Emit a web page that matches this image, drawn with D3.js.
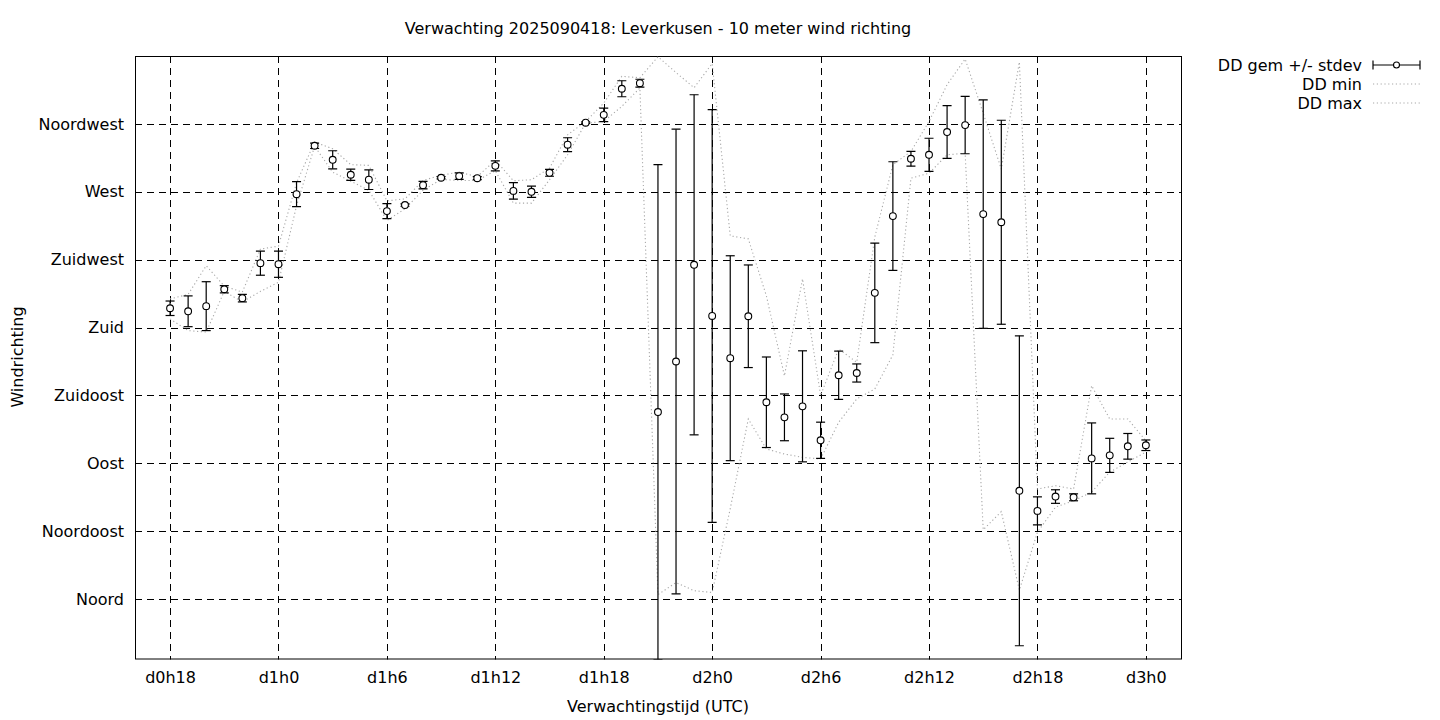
<!DOCTYPE html>
<html>
<head>
<meta charset="utf-8">
<script src="https://cdn.jsdelivr.net/npm/d3@7"></script>
<style>
  html, body { margin: 0; padding: 0; background: #fff; }
  svg { display: block; }
  text { font-family: "DejaVu Sans", sans-serif; font-size: 16px; fill: #000; }
</style>
</head>
<body>
<svg id="chart" width="1440" height="720"></svg>
<script>
// ---- data (hours since d0h0) ----
const hours = [18,19,20,21,22,23,24,25,26,27,28,29,30,31,32,33,34,35,36,37,38,39,40,41,42,43,44,45,
  46,47,48,49,50,51,52,53,54,55,56,57,58,59,60,61,62,63,64,65,66,67,68,69,70,71,72];
const ddMean = [192.8,190.8,194.2,205.4,199.5,222.7,222.0,268.4,300.5,291.2,281.3,278.0,257.2,261.2,274.4,279.3,280.4,279.0,287.2,270.6,270.0,282.6,301.2,315.8,321.0,338.3,342.0,124.0,
  157.5,221.6,187.7,159.7,187.5,130.5,120.5,127.8,105.3,148.4,149.9,203.0,253.9,291.9,294.5,309.6,314.2,255.2,249.8,71.8,58.5,68.0,67.5,93.3,95.3,101.3,102.0];
const ddStdev = [4.8,10.2,16.2,2.4,2.5,8.0,8.7,8.3,1.8,6.0,3.7,6.5,5.0,0.8,2.5,0.8,2.2,1.0,3.3,5.5,3.7,2.3,4.6,0.5,4.5,5.3,2.6,164.0,
  154.0,112.7,136.8,67.9,34.0,30.0,15.5,36.8,12.0,16.0,6.0,33.0,36.0,4.9,11.0,17.5,19.0,75.7,67.6,102.7,9.3,4.5,2.3,23.5,11.3,8.5,3.5];
const ddMin = [185.7,178.0,177.0,204.0,197.0,204.0,210.0,260.7,300.2,283.0,277.0,271.0,251.0,258.7,271.0,278.2,277.5,277.5,284.0,262.5,262.5,278.0,294.5,315.5,316.6,326.6,338.8,3.0,
  11.0,5.6,4.4,60.0,119.4,99.5,96.2,94.0,92.9,117.2,132.7,139.3,161.9,279.0,282.3,294.5,295.6,46.0,58.0,6.0,44.4,61.0,65.2,71.0,84.2,90.9,97.5];
const ddMax = [199.0,202.0,221.0,207.5,203.5,232.0,234.0,276.0,303.0,298.5,288.0,287.5,264.0,265.3,277.5,281.0,283.0,280.0,291.0,277.3,278.0,285.7,307.8,316.6,328.8,346.5,345.6,359.5,
  349.0,339.0,355.0,240.8,238.8,201.0,148.0,212.3,135.0,165.8,157.0,240.0,288.0,296.7,316.6,341.0,358.0,322.0,285.0,356.0,73.0,75.2,73.0,141.5,119.4,119.4,105.0];

const xTickValues = [18,24,30,36,42,48,54,60,66,72];
const xTickLabels = ["d0h18","d1h0","d1h6","d1h12","d1h18","d2h0","d2h6","d2h12","d2h18","d3h0"];
const yTickValues = [0,45,90,135,180,225,270,315];
const yTickLabels = ["Noord","Noordoost","Oost","Zuidoost","Zuid","Zuidwest","West","Noordwest"];
const legendLabels = ["DD gem +/- stdev","DD min","DD max"];
const titleText = "Verwachting 2025090418: Leverkusen - 10 meter wind richting";
const xLabelText = "Verwachtingstijd (UTC)";
const yLabelText = "Windrichting";

// ---- layout ----
const L = 135, R = 1182, T = 56, B = 659.5;
const svg = d3.select("#chart");
const x = d3.scaleLinear().domain([16.06, 74.0]).range([L, R]);
const y = d3.scaleLinear().domain([-40, 360]).range([B, T]);

const rows = hours.map((h, i) => ({h, m: ddMean[i], s: ddStdev[i], mn: ddMin[i], mx: ddMax[i]}));

svg.append("defs").append("clipPath").attr("id", "clip")
  .append("rect").attr("x", L).attr("y", T).attr("width", R - L).attr("height", B - T);

// grid
const grid = svg.append("g").attr("stroke", "#000").attr("stroke-width", 1).attr("stroke-dasharray", "7,5").attr("fill", "none");
grid.selectAll("line.gx").data(xTickValues).join("line")
  .attr("x1", d => Math.round(x(d)) + 0.5).attr("x2", d => Math.round(x(d)) + 0.5)
  .attr("y1", T).attr("y2", B);
grid.selectAll("line.gy").data(yTickValues).join("line")
  .attr("y1", d => Math.round(y(d)) + 0.5).attr("y2", d => Math.round(y(d)) + 0.5)
  .attr("x1", L).attr("x2", R);

// axes (labels only)
const xAxis = d3.axisBottom(x).tickValues(xTickValues).tickSize(0).tickPadding(12)
  .tickFormat((d, i) => xTickLabels[i]);
const gx = svg.append("g").attr("transform", `translate(0,${B})`).call(xAxis);
gx.select(".domain").remove();
gx.selectAll("text").style("font-size", "16px").style("font-family", "DejaVu Sans, sans-serif");

const yAxis = d3.axisLeft(y).tickValues(yTickValues).tickSize(0).tickPadding(11)
  .tickFormat((d, i) => yTickLabels[i]);
const gy = svg.append("g").attr("transform", `translate(${L},0)`).call(yAxis);
gy.select(".domain").remove();
gy.selectAll("text").style("font-size", "16px").style("font-family", "DejaVu Sans, sans-serif");

// border
svg.append("rect").attr("x", L + 0.5).attr("y", T + 0.5).attr("width", R - L - 1).attr("height", B - T - 1)
  .attr("fill", "none").attr("stroke", "#000").attr("stroke-width", 1);

const plot = svg.append("g").attr("clip-path", "url(#clip)");

// min / max dotted lines
const dotStyle = sel => sel.attr("fill", "none").attr("stroke", "#a8a8a8").attr("stroke-width", 1.1).attr("stroke-dasharray", "1.2,2.6");
plot.append("path").datum(rows).attr("d", d3.line().x(d => x(d.h)).y(d => y(d.mn))).call(dotStyle);
plot.append("path").datum(rows).attr("d", d3.line().x(d => x(d.h)).y(d => y(d.mx))).call(dotStyle);

// error bars
const cap = 4.5;
const eb = plot.append("g").attr("stroke", "#000").attr("stroke-width", 1.2);
eb.selectAll("line.v").data(rows).join("line")
  .attr("x1", d => x(d.h)).attr("x2", d => x(d.h))
  .attr("y1", d => y(d.m - d.s)).attr("y2", d => y(d.m + d.s));
eb.selectAll("line.t").data(rows).join("line")
  .attr("x1", d => x(d.h) - cap).attr("x2", d => x(d.h) + cap)
  .attr("y1", d => y(d.m + d.s)).attr("y2", d => y(d.m + d.s));
eb.selectAll("line.b").data(rows).join("line")
  .attr("x1", d => x(d.h) - cap).attr("x2", d => x(d.h) + cap)
  .attr("y1", d => y(d.m - d.s)).attr("y2", d => y(d.m - d.s));
plot.append("g").selectAll("circle").data(rows).join("circle")
  .attr("cx", d => x(d.h)).attr("cy", d => y(d.m)).attr("r", 3.4)
  .attr("fill", "#fff").attr("stroke", "#000").attr("stroke-width", 1.1);

// title & axis labels
svg.append("text").attr("x", 658).attr("y", 34).attr("text-anchor", "middle").text(titleText);
svg.append("text").attr("x", 658).attr("y", 712).attr("text-anchor", "middle").text(xLabelText);
svg.append("text").attr("transform", "translate(23,357) rotate(-90)").attr("text-anchor", "middle").text(yLabelText);

// legend
const lg = svg.append("g");
const lx1 = 1373, lx2 = 1420, ly0 = 65, ldy = 19;
legendLabels.forEach((t, i) => {
  lg.append("text").attr("x", 1362).attr("y", ly0 + i * ldy).attr("dy", "0.35em").attr("text-anchor", "end").text(t);
});
lg.append("line").attr("x1", lx1).attr("x2", lx2).attr("y1", ly0).attr("y2", ly0).attr("stroke", "#000").attr("stroke-width", 1.2);
lg.append("line").attr("x1", lx1).attr("x2", lx1).attr("y1", ly0 - cap).attr("y2", ly0 + cap).attr("stroke", "#000").attr("stroke-width", 1.2);
lg.append("line").attr("x1", lx2).attr("x2", lx2).attr("y1", ly0 - cap).attr("y2", ly0 + cap).attr("stroke", "#000").attr("stroke-width", 1.2);
lg.append("circle").attr("cx", (lx1 + lx2) / 2).attr("cy", ly0).attr("r", 3).attr("fill", "#fff").attr("stroke", "#000").attr("stroke-width", 1.1);
[1, 2].forEach(i => {
  lg.append("line").attr("x1", lx1).attr("x2", lx2).attr("y1", ly0 + i * ldy).attr("y2", ly0 + i * ldy).call(dotStyle);
});
</script>
</body>
</html>
